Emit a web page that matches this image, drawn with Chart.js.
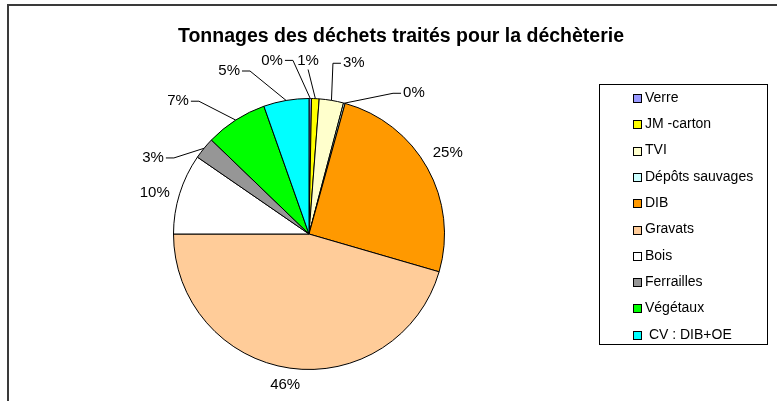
<!DOCTYPE html>
<html>
<head>
<meta charset="utf-8">
<script src="https://cdn.jsdelivr.net/npm/chart.js@4/dist/chart.umd.min.js"></script>
<style>
  body { margin: 0; background: #fff; }
  #wrap { width: 777px; height: 401px; position: relative; }
</style>
</head>
<body>
<div id="wrap"><canvas id="myChart"></canvas></div>
<script>
// data (share of total tonnage)
var categories = ['Verre', 'JM -carton', 'TVI', 'Dépôts sauvages', 'DIB', 'Gravats', 'Bois', 'Ferrailles', 'Végétaux', ' CV : DIB+OE'];
var tonnages = [0.3, 0.9, 2.9, 0.2, 25.2, 45.5, 9.6, 2.6, 7.4, 5.4];
var sliceColors = ['#9999FF', '#FFFF00', '#FFFFCC', '#CCFFFF', '#FF9900', '#FFCC99', '#FFFFFF', '#969696', '#00FF00', '#00FFFF'];
var chartTitle = 'Tonnages des déchets traités pour la déchèterie';

// where each percentage label sits: [angle from top clockwise (deg), distance outside the pie (px)]
var labelPlace = [[348, 42], [359.7, 38], [14.7, 41], [36.7, 40], [59.8, 25], [189, 17], [284.8, 24], [296, 38], [315.4, 51], [333.9, 46]];

var FONT = 'Arial, "Liberation Sans", sans-serif';

// frame + title
var framePlugin = {
  id: 'frame',
  beforeDraw: function(chart) {
    var ctx = chart.ctx;
    ctx.save();
    ctx.fillStyle = '#fff';
    ctx.fillRect(0, 0, chart.width, chart.height);
    ctx.strokeStyle = '#3a3a3a';
    ctx.lineWidth = 2;
    ctx.beginPath();
    ctx.moveTo(8, chart.height);
    ctx.lineTo(8, 5);
    ctx.lineTo(chart.width, 5);
    ctx.stroke();
    ctx.fillStyle = '#000';
    ctx.font = 'bold 19.5px ' + FONT;
    ctx.textAlign = 'center';
    ctx.textBaseline = 'middle';
    ctx.fillText(chartTitle, 401, 37);
    ctx.restore();
  }
};

// percentages with leader lines
var labelPlugin = {
  id: 'pctLabels',
  afterDatasetsDraw: function(chart) {
    var ctx = chart.ctx;
    var meta = chart.getDatasetMeta(0);
    var total = tonnages.reduce(function(a, b) { return a + b; }, 0);
    ctx.save();
    ctx.font = '15px ' + FONT;
    ctx.fillStyle = '#000';
    ctx.strokeStyle = '#000';
    ctx.lineWidth = 1;
    ctx.textBaseline = 'middle';
    ctx.textAlign = 'center';
    meta.data.forEach(function(arc, i) {
      var p = arc.getProps(['x', 'y', 'startAngle', 'endAngle', 'outerRadius'], true);
      var mid = (p.startAngle + p.endAngle) / 2;
      var ex = p.x + p.outerRadius * Math.cos(mid);
      var ey = p.y + p.outerRadius * Math.sin(mid);
      var a = labelPlace[i][0] * Math.PI / 180 - Math.PI / 2;
      var d = p.outerRadius + labelPlace[i][1];
      var lx = p.x + d * Math.cos(a);
      var ly = p.y + d * Math.sin(a);
      var txt = Math.round(tonnages[i] / total * 100) + '%';
      var w = ctx.measureText(txt).width;
      ctx.fillText(txt, lx, ly);
      if (labelPlace[i][1] > 30) {
        ctx.beginPath();
        if (Math.abs(lx - ex) < 10) {
          ctx.moveTo(lx, ly + 9);
          ctx.lineTo(ex, ey);
        } else if (lx < ex) {
          var ax = lx + w / 2 + 2;
          ctx.moveTo(ax, ly);
          ctx.lineTo(ax + 8, ly);
          ctx.lineTo(ex, ey);
        } else {
          var bx = lx - w / 2 - 2;
          ctx.moveTo(bx, ly);
          ctx.lineTo(bx - 8, ly);
          ctx.lineTo(ex, ey);
        }
        ctx.stroke();
      }
    });
    ctx.restore();
  }
};

// boxed legend on the right
var legendPlugin = {
  id: 'boxLegend',
  afterDraw: function(chart) {
    var ctx = chart.ctx;
    ctx.save();
    ctx.strokeStyle = '#000';
    ctx.lineWidth = 1;
    ctx.strokeRect(599.5, 84.5, 168, 260);
    ctx.font = '14px ' + FONT;
    ctx.textBaseline = 'middle';
    ctx.textAlign = 'left';
    categories.forEach(function(c, i) {
      var y = 98 + i * 26.3;
      ctx.fillStyle = sliceColors[i];
      ctx.fillRect(633.5, Math.round(y - 4) + 0.5, 8, 8);
      ctx.strokeRect(633.5, Math.round(y - 4) + 0.5, 8, 8);
      ctx.fillStyle = '#000';
      ctx.fillText(c, 645, y);
    });
    ctx.restore();
  }
};

var ctx = document.getElementById('myChart').getContext('2d');
var myChart = new Chart(ctx, {
  type: 'pie',
  data: {
    labels: categories,
    datasets: [{
      data: tonnages,
      backgroundColor: sliceColors,
      borderColor: '#000',
      borderWidth: 1
    }]
  },
  options: {
    responsive: true,
    maintainAspectRatio: false,
    animation: false,
    layout: { padding: { left: 173, top: 98, right: 332, bottom: 31 } },
    plugins: {
      legend: { display: false },
      tooltip: { enabled: false },
      title: { display: false }
    }
  },
  plugins: [framePlugin, labelPlugin, legendPlugin]
});
</script>
</body>
</html>
